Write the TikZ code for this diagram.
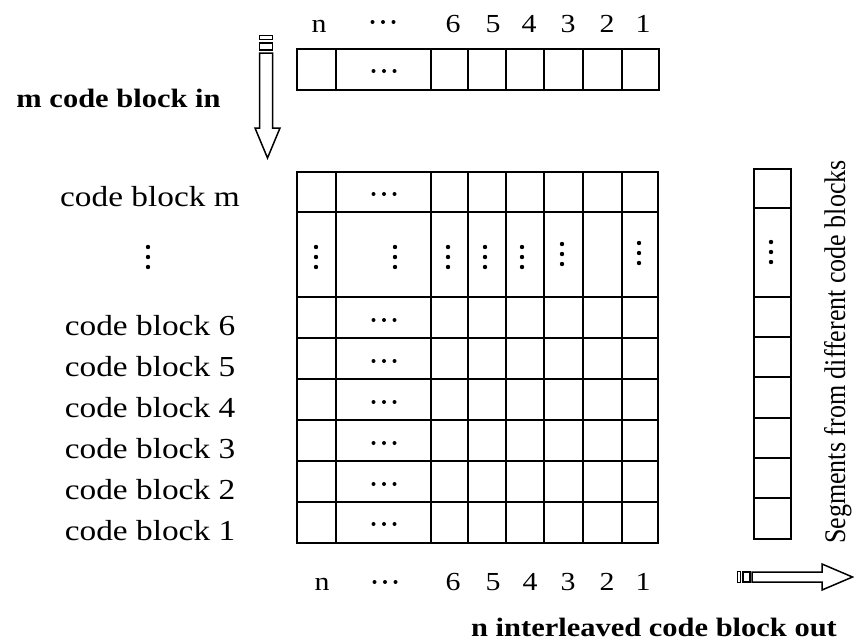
\documentclass[tikz,border=0pt]{standalone}
\usepackage{graphicx}
\usepackage{fontspec}
\setmainfont{Liberation Serif}
\newfontfamily\stf[FakeStretch=1.15]{Liberation Serif}
\tikzset{
  gridline/.style={line width=1.6pt, line join=miter},
  lbl/.style={font=\stf\fontsize{29}{34}\selectfont, anchor=base, inner sep=0pt},
  num/.style={font=\stf\fontsize{26}{30}\selectfont, anchor=base, inner sep=0pt},
  boldlbl/.style={font=\stf\bfseries\fontsize{26.5}{32}\selectfont, anchor=base, inner sep=0pt},
  rotlbl/.style={font=\fontsize{26}{30}\selectfont, anchor=base, inner sep=0pt, rotate=90},
  hd/.pic={\fill (-10.5pt,0pt) circle (2pt) (0pt,0pt) circle (2pt) (10.5pt,0pt) circle (2pt);},
  vd/.pic={\fill (0pt,-10pt) circle (2.2pt) (0pt,0pt) circle (2.2pt) (0pt,10pt) circle (2.2pt);},
}
\begin{document}
\begin{tikzpicture}[x=1pt,y=-1pt]
\useasboundingbox (0,0) rectangle (854,643);

% top labels
\node[num] (tn) at (319,32) {n};
\pic at (383,22) {hd};
\node[num] (t6) at (453,32) {6};
\node[num] (t5) at (493,32) {5};
\node[num] (t4) at (529,32) {4};
\node[num] (t3) at (568,32) {3};
\node[num] (t2) at (607,32) {2};
\node[num] (t1) at (643,32) {1};

% top row
\draw[gridline] (297,49) rectangle (659,90);
\foreach \x in {336,431,468,506,544,583,622} \draw[gridline] (\x,49) -- (\x,90);
\pic at (384,71) {hd};

% input arrow
\draw[line width=1.5pt] (259.5,35.5) rectangle (272.5,39.5);
\draw[line width=1.5pt] (259.5,43) rectangle (272.5,50);
\draw[line width=1.5pt, line join=miter] (259.5,53) -- (259.5,128) -- (255,128) -- (267.5,158) -- (280,128) -- (272.5,128) -- (272.5,53) -- cycle;
\node[boldlbl] (inlbl) at (118.5,107) {m code block in};

% main grid
\draw[gridline] (297,172) rectangle (658,543);
\foreach \y in {212,297,338,379,420,461,502} \draw[gridline] (297,\y) -- (658,\y);
\foreach \x in {336,431,468,506,544,583,622} \draw[gridline] (\x,172) -- (\x,543);
\pic at (384,194) {hd};
\foreach \y in {320,361,402,443,484,524} \pic at (384,\y) {hd};
\pic at (316,257) {vd};
\pic at (395,257) {vd};
\pic at (448,257) {vd};
\pic at (485,257) {vd};
\pic at (522,257) {vd};
\pic at (562,254) {vd};
\pic at (639,253) {vd};

% row labels
\node[lbl] (cbm) at (150,206) {code block m};
\pic at (148,257) {vd};
\node[lbl] (cb6) at (150,335) {code block 6};
\node[lbl] (cb5) at (150,376) {code block 5};
\node[lbl] (cb4) at (150,417) {code block 4};
\node[lbl] (cb3) at (150,458) {code block 3};
\node[lbl] (cb2) at (150,499) {code block 2};
\node[lbl] (cb1) at (150,540) {code block 1};

% bottom labels
\node[num] (bn) at (322,590) {n};
\pic at (385,582) {hd};
\node[num] (b6) at (453,590) {6};
\node[num] (b5) at (493,590) {5};
\node[num] (b4) at (530,590) {4};
\node[num] (b3) at (568,590) {3};
\node[num] (b2) at (607,590) {2};
\node[num] (b1) at (643,590) {1};

% right column
\draw[gridline] (754,169) rectangle (791,539);
\foreach \y in {208,297,337,377,418,458,498} \draw[gridline] (754,\y) -- (791,\y);
\pic at (771,252) {vd};
\node[rotlbl] (seg) at (845,352) {\scalebox{1}[1.15]{Segments from different code blocks}};

% output arrow
\draw[line width=1.5pt] (737.5,571.5) rectangle (740.5,582.5);
\draw[line width=1.5pt] (743,572) rectangle (750,582);
\draw[line width=1.5pt, line join=miter] (752,572) -- (822,572) -- (822,564) -- (852.5,577) -- (822,590) -- (822,582) -- (752,582) -- cycle;
\node[boldlbl] (outlbl) at (654,636) {n interleaved code block out};
\end{tikzpicture}
\end{document}
